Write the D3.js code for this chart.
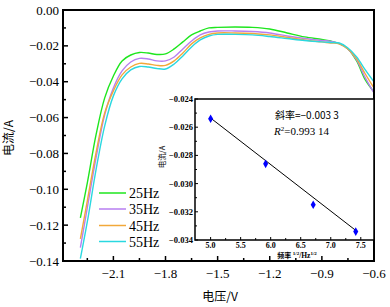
<!DOCTYPE html>
<html><head><meta charset="utf-8">
<script src="https://cdn.jsdelivr.net/npm/d3@7"></script>
<style>body{margin:0;background:#fff}svg{display:block}</style>
</head><body>
<svg id="c" width="390" height="307"></svg>
<script>
// ---------- data ----------
const voltages = [-2.29,-2.25,-2.20,-2.15,-2.10,-2.05,-2.00,-1.95,-1.90,-1.85,-1.80,-1.75,-1.70,-1.65,-1.60,-1.55,-1.50,-1.40,-1.30,-1.20,-1.10,-1.00,-0.90,-0.85,-0.80,-0.75,-0.70,-0.65,-0.60];
const current25 = [-0.1159,-0.0964,-0.0697,-0.0490,-0.0368,-0.0284,-0.0251,-0.0237,-0.0240,-0.0248,-0.0245,-0.0217,-0.0178,-0.0139,-0.0117,-0.0100,-0.0097,-0.0095,-0.0097,-0.0106,-0.0128,-0.0150,-0.0164,-0.0173,-0.0187,-0.0217,-0.0284,-0.0390,-0.0457];
const current35 = [-0.1326,-0.1103,-0.0825,-0.0585,-0.0435,-0.0340,-0.0290,-0.0270,-0.0273,-0.0284,-0.0284,-0.0262,-0.0217,-0.0173,-0.0139,-0.0123,-0.0117,-0.0117,-0.0120,-0.0128,-0.0145,-0.0159,-0.0170,-0.0175,-0.0187,-0.0217,-0.0278,-0.0379,-0.0463];
const current45 = [-0.1276,-0.1064,-0.0797,-0.0574,-0.0451,-0.0362,-0.0318,-0.0298,-0.0301,-0.0309,-0.0309,-0.0284,-0.0240,-0.0189,-0.0156,-0.0136,-0.0128,-0.0128,-0.0131,-0.0139,-0.0153,-0.0167,-0.0178,-0.0184,-0.0189,-0.0217,-0.0273,-0.0357,-0.0435];
const current55 = [-0.1387,-0.1181,-0.0892,-0.0646,-0.0479,-0.0384,-0.0334,-0.0315,-0.0318,-0.0326,-0.0329,-0.0301,-0.0256,-0.0206,-0.0167,-0.0145,-0.0136,-0.0136,-0.0139,-0.0148,-0.0159,-0.0170,-0.0178,-0.0181,-0.0184,-0.0212,-0.0262,-0.0334,-0.0401];
const seriesNames = ["25Hz","35Hz","45Hz","55Hz"];
const seriesColors = ["#1ee61e","#b77ef0","#f2a83a","#2ad8e0"];
const xTicks = [-2.1,-1.8,-1.5,-1.2,-0.9,-0.6];
const yTicks = [0,-0.02,-0.04,-0.06,-0.08,-0.10,-0.12,-0.14];

// inset
const sqrtFreq = [5.0, 5.916, 6.708, 7.416];
const insetCurrent = [-0.0254, -0.0286, -0.0315, -0.0334];
const fitX = [5.0, 7.416];
const fitY = [-0.02535, -0.03332];
const insetXTicks = [5.0,5.5,6.0,6.5,7.0,7.5];
const insetYTicks = [-0.024,-0.026,-0.028,-0.030,-0.032,-0.034];
const slopeText = "斜率=−0.003 3";
const r2Value = "=0.993 14";

// ---------- drawing ----------
const svg = d3.select("#c");
const serif = "'Liberation Serif','Times New Roman',serif";
const cjk = "'Noto Sans CJK SC','Liberation Serif',serif";

const L=63, R=374, T=10, B=261;
const x = d3.scaleLinear().domain([-2.39,-0.6]).range([L,R]);
const y = d3.scaleLinear().domain([-0.14,0]).range([B,T]);

const all = [current25,current35,current45,current55];
const line = d3.line().x((d,i)=>x(voltages[i])).y(d=>y(d)).curve(d3.curveCatmullRom.alpha(0.5));
svg.append("g").selectAll("path").data(all).join("path")
  .attr("d", d=>line(d)).attr("fill","none")
  .attr("stroke",(d,i)=>seriesColors[i]).attr("stroke-width",1.4);

// frame
svg.append("rect").attr("x",L).attr("y",T).attr("width",R-L).attr("height",B-T)
  .attr("fill","none").attr("stroke","#000").attr("stroke-width",2);

// axes ticks (inward)
const fmtX = d3.format(".1f"), fmtY = d3.format(".2f");
const xMinor = d3.range(-2.25,-0.6,0.3);
const yMinor = d3.range(-0.13,0,0.02);
const ax = svg.append("g");
ax.selectAll(".xt").data(xTicks).join("line").attr("x1",d=>x(d)).attr("x2",d=>x(d)).attr("y1",B).attr("y2",B-5).attr("stroke","#000").attr("stroke-width",1.5);
ax.selectAll(".xm").data(xMinor).join("line").attr("x1",d=>x(d)).attr("x2",d=>x(d)).attr("y1",B).attr("y2",B-3).attr("stroke","#000").attr("stroke-width",1.5);
ax.selectAll(".yt").data(yTicks).join("line").attr("y1",d=>y(d)).attr("y2",d=>y(d)).attr("x1",L).attr("x2",L+5).attr("stroke","#000").attr("stroke-width",1.5);
ax.selectAll(".ym").data(yMinor).join("line").attr("y1",d=>y(d)).attr("y2",d=>y(d)).attr("x1",L).attr("x2",L+3).attr("stroke","#000").attr("stroke-width",1.5);
ax.selectAll(".xl").data(xTicks).join("text").attr("x",d=>x(d)).attr("y",278)
  .attr("text-anchor","middle").attr("font-family",serif).attr("font-size",13).text(d=>fmtX(d));
ax.selectAll(".yl").data(yTicks).join("text").attr("x",59).attr("y",d=>y(d)+4.5)
  .attr("text-anchor","end").attr("font-family",serif).attr("font-size",13).text(d=>fmtY(d));

svg.append("text").attr("x",220).attr("y",301).attr("text-anchor","middle")
  .attr("font-family",cjk).attr("font-size",12).text("电压/V");
svg.append("text").attr("transform","translate(13,138) rotate(-90)").attr("text-anchor","middle")
  .attr("font-family",cjk).attr("font-size",12).text("电流/A");

// legend
const lg = svg.append("g");
const legY = [193,209,225.5,241.5];
seriesNames.forEach((n,i)=>{
  lg.append("line").attr("x1",99).attr("x2",126).attr("y1",legY[i]).attr("y2",legY[i])
    .attr("stroke",seriesColors[i]).attr("stroke-width",1.5);
  lg.append("text").attr("x",129).attr("y",legY[i]+5).attr("font-family",serif).attr("font-size",14).text(n);
});

// ---------- inset ----------
const iL=195, iR=374, iT=99, iB=240;
const ix = d3.scaleLinear().domain([4.74,7.72]).range([iL,iR]);
const iy = d3.scaleLinear().domain([-0.034,-0.024]).range([iB,iT]);
const ig = svg.append("g");
ig.append("rect").attr("x",iL).attr("y",iT).attr("width",iR-iL).attr("height",iB-iT)
  .attr("fill","#fff").attr("stroke","#000").attr("stroke-width",1.5);
const ixMinor = d3.range(5.25,7.6,0.5);
const iyMinor = d3.range(-0.033,-0.024,0.002);
ig.selectAll(".a").data(insetXTicks).join("line").attr("x1",d=>ix(d)).attr("x2",d=>ix(d)).attr("y1",iB).attr("y2",iB-3).attr("stroke","#000");
ig.selectAll(".b").data(ixMinor).join("line").attr("x1",d=>ix(d)).attr("x2",d=>ix(d)).attr("y1",iB).attr("y2",iB-2).attr("stroke","#000");
ig.selectAll(".c").data(insetYTicks).join("line").attr("y1",d=>iy(d)).attr("y2",d=>iy(d)).attr("x1",iL).attr("x2",iL+3).attr("stroke","#000");
ig.selectAll(".d").data(iyMinor).join("line").attr("y1",d=>iy(d)).attr("y2",d=>iy(d)).attr("x1",iL).attr("x2",iL+2).attr("stroke","#000");
ig.selectAll(".e").data(insetXTicks).join("text").attr("x",d=>ix(d)).attr("y",iB+8)
  .attr("text-anchor","middle").attr("font-family",serif).attr("font-size",8).attr("font-weight","bold").text(d=>d3.format(".1f")(d));
ig.selectAll(".f").data(insetYTicks).join("text").attr("x",iL-2).attr("y",d=>iy(d)+3)
  .attr("text-anchor","end").attr("font-family",serif).attr("font-size",8.5).attr("font-weight","bold").text(d=>d3.format(".3f")(d));
const xt = ig.append("text").attr("x",297).attr("y",257.5).attr("text-anchor","middle")
  .attr("font-family",cjk).attr("font-size",7).attr("font-weight","bold");
xt.append("tspan").text("频率 ");
xt.append("tspan").attr("dy",-2.5).attr("font-size",5).attr("font-family",serif).text("1/2");
xt.append("tspan").attr("dy",2.5).attr("font-family",serif).attr("font-size",7.5).text("/Hz");
xt.append("tspan").attr("dy",-2.5).attr("font-size",5).attr("font-family",serif).text("1/2");
ig.append("text").attr("transform","translate(165,157) rotate(-90)").attr("text-anchor","middle")
  .attr("font-family",cjk).attr("font-size",7.5).text("电流/A");

ig.append("line").attr("x1",ix(fitX[0])).attr("y1",iy(fitY[0])).attr("x2",ix(fitX[1])).attr("y2",iy(fitY[1]))
  .attr("stroke","#000").attr("stroke-width",1);
ig.selectAll(".p").data(sqrtFreq).join("path")
  .attr("transform",(d,i)=>`translate(${ix(d)},${iy(insetCurrent[i])})`)
  .attr("d",d3.symbol(d3.symbolDiamond,22)).attr("fill","#0000ff");

ig.append("text").attr("x",275).attr("y",119).attr("font-family",cjk).attr("font-size",10).text(slopeText);
const r2 = ig.append("text").attr("x",274).attr("y",134.5).attr("font-family",serif).attr("font-size",11);
r2.append("tspan").attr("font-style","italic").text("R");
r2.append("tspan").attr("dy",-4).attr("font-size",7).text("2");
r2.append("tspan").attr("dy",4).text(r2Value);
</script>
</body></html>
